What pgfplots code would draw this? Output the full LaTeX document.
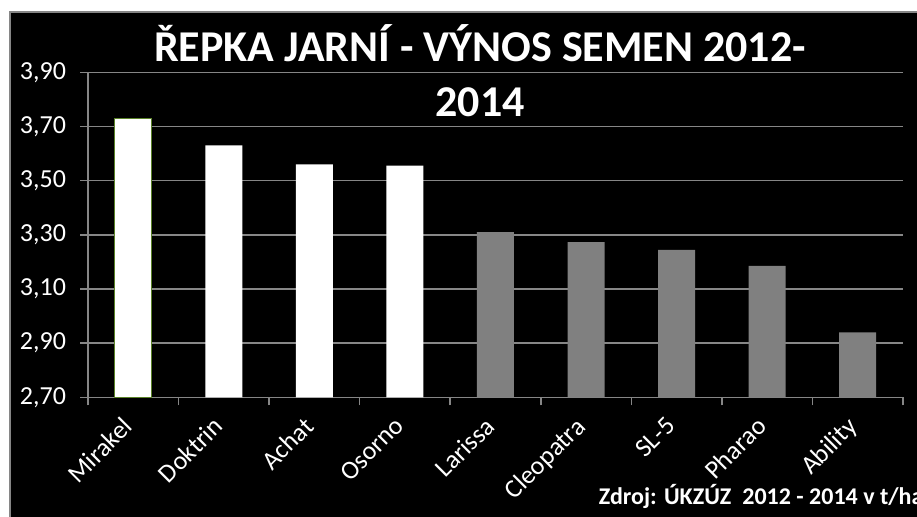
\documentclass[border=0pt]{standalone}
\usepackage{pgfplots}
\pgfplotsset{compat=1.18}
\usepackage{fontspec}
\setmainfont{Carlito}
\definecolor{bargray}{RGB}{128,128,128}
\definecolor{gridgray}{RGB}{134,134,134}
\definecolor{edgegreen}{RGB}{90,130,40}
\begin{document}
\begin{tikzpicture}
\useasboundingbox (0,0) rectangle (458.5pt,-258.5pt);
\fill[white] (0,0) rectangle (458.5pt,-258.5pt);
\fill[black] (5pt,-6pt) rectangle (470pt,-270pt);
\draw[gridgray, line width=0.75pt] (5pt,-270pt) -- (5pt,-6pt) -- (470pt,-6pt);
\begin{axis}[
  at={(44pt,-198.65pt)}, anchor=south west,
  scale only axis, width=407.5pt, height=162.5pt,
  xmin=-0.5, xmax=8.5, ymin=2.7, ymax=3.9,
  axis lines=left,
  axis line style={gridgray, line width=0.75pt, -},
  ytick={2.7,2.9,3.1,3.3,3.5,3.7,3.9},
  ymajorgrids,
  grid style={gridgray, line width=0.75pt},
  tick style={gridgray, line width=0.75pt},
  tick align=outside, major tick length=4pt,
  xtick={-0.5,0.5,...,8.5},
  xticklabel={},
  extra x ticks={0,1,2,3,4,5,6,7,8},
  extra x tick labels={Mirakel,Doktrin,Achat,Osorno,Larissa,Cleopatra,SL-5,Pharao,Ability},
  extra x tick style={grid=none, major tick length=0pt,
     tick label style={xshift=-6.0pt, yshift=-8.84pt, rotate=45, anchor=north east, inner sep=0pt, white,
       font=\fontsize{13}{15}\selectfont}},
  yticklabel style={white, xshift=-3.5pt, font=\fontsize{13}{15}\selectfont},
  /pgf/number format/.cd, fixed, fixed zerofill, precision=2, use comma, assume math mode=true,
  /pgfplots/.cd,
  clip=true,
]
\addplot[ybar, bar width=18.5pt, bar shift=0pt, fill=white, draw=none]
  coordinates {(1,3.63) (2,3.56) (3,3.555)};
\addplot[ybar, bar width=18.5pt, bar shift=0pt, fill=white, draw=edgegreen, line width=0.4pt]
  coordinates {(0,3.73)};
\addplot[ybar, bar width=18.5pt, bar shift=0pt, fill=bargray, draw=none]
  coordinates {(4,3.31) (5,3.273) (6,3.244) (7,3.185) (8,2.94)};
\end{axis}
\node[anchor=base, white, font=\bfseries\fontsize{22}{26}\selectfont] at (240pt,-30.85pt) {ŘEPKA JARNÍ - VÝNOS SEMEN 2012-};
\node[anchor=base, white, font=\bfseries\fontsize{22}{26}\selectfont] at (240pt,-58.35pt) {2014};
\node[anchor=base west, white, font=\bfseries\fontsize{12}{14}\selectfont] at (295.85pt,-252.5pt) {Zdroj: ÚKZÚZ\ \ 2012 - 2014 v t/ha};
\end{tikzpicture}
\end{document}
